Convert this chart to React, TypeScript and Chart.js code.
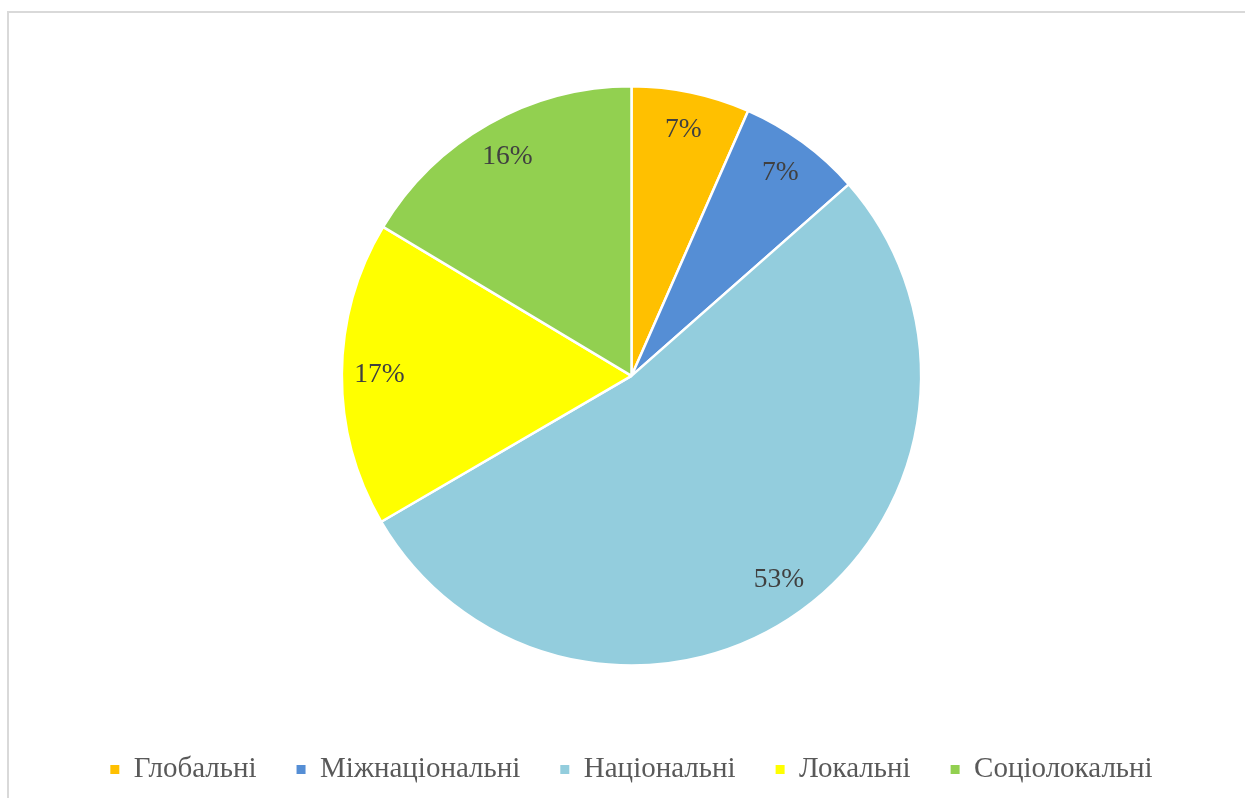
import React, { useEffect, useRef } from "react";
import { Chart, registerables } from "chart.js";

Chart.register(...registerables);

const categories = ["Глобальні", "Міжнаціональні", "Національні", "Локальні", "Соціолокальні"];
const values = [6.6, 6.9, 53.1, 17.0, 16.4];
const colors = ["#FFC000", "#558ED5", "#93CDDD", "#FFFF00", "#92D050"];

const FONT = "'Liberation Serif', 'Times New Roman', serif";

const labelPlugin = {
  id: "sliceLabels",
  afterDatasetsDraw(chart: any) {
    const meta = chart.getDatasetMeta(0);
    const data = chart.data.datasets[0].data as number[];
    const total = data.reduce((a, b) => a + b, 0);
    const ctx = chart.ctx;
    ctx.save();
    ctx.font = `27.5px ${FONT}`;
    ctx.fillStyle = "#404040";
    ctx.textAlign = "center";
    ctx.textBaseline = "middle";
    meta.data.forEach((arc: any, i: number) => {
      const p = arc.getProps(["x", "y", "startAngle", "endAngle", "outerRadius"], true);
      const mid = (p.startAngle + p.endAngle) / 2;
      const r = p.outerRadius * 0.87;
      const x = p.x + Math.cos(mid) * r;
      const y = p.y + Math.sin(mid) * r;
      ctx.fillText(Math.round((data[i] / total) * 100) + "%", x, y);
    });
    ctx.restore();
  },
};

export default function App() {
  const ref = useRef<HTMLCanvasElement>(null);
  useEffect(() => {
    if (!ref.current) return;
    const baseGen = (Chart as any).overrides.pie.plugins.legend.labels.generateLabels;
    const chart = new Chart(ref.current, {
      type: "pie",
      data: {
        labels: categories,
        datasets: [
          {
            data: values,
            backgroundColor: colors,
            borderColor: "#ffffff",
            borderWidth: 2.5,
            hoverOffset: 0,
            offset: 0,
          },
        ],
      },
      options: {
        responsive: false,
        animation: false,
        layout: { padding: { top: 85, left: 18, right: 0, bottom: 4 } },
        plugins: {
          tooltip: { enabled: false },
          title: {
            display: true,
            text: " ",
            position: "bottom",
            weight: 500,
            font: { size: 1 },
            padding: { top: 47, bottom: 0 },
          } as any,
          legend: {
            position: "bottom",
            labels: {
              boxWidth: 9,
              boxHeight: 9,
              padding: 40,
              color: "#595959",
              font: { family: FONT, size: 29 },
              generateLabels: (c: any) =>
                baseGen(c).map((l: any) => ({ ...l, lineWidth: 0, strokeStyle: l.fillStyle })),
            },
          },
        },
      },
      plugins: [labelPlugin],
    });
    return () => chart.destroy();
  }, []);

  return (
    <div
      style={{
        position: "fixed",
        left: 0,
        top: 0,
        width: 1245,
        height: 798,
        overflow: "hidden",
        background: "#fff",
      }}
    >
      <div
        style={{
          position: "absolute",
          left: 7,
          top: 11,
          width: 1400,
          height: 1000,
          borderTop: "2px solid #d9d9d9",
          borderLeft: "2px solid #d9d9d9",
        }}
      />
      <canvas
        ref={ref}
        width={1245}
        height={798}
        style={{ position: "absolute", left: 0, top: 0, width: 1245, height: 798 }}
      />
    </div>
  );
}
